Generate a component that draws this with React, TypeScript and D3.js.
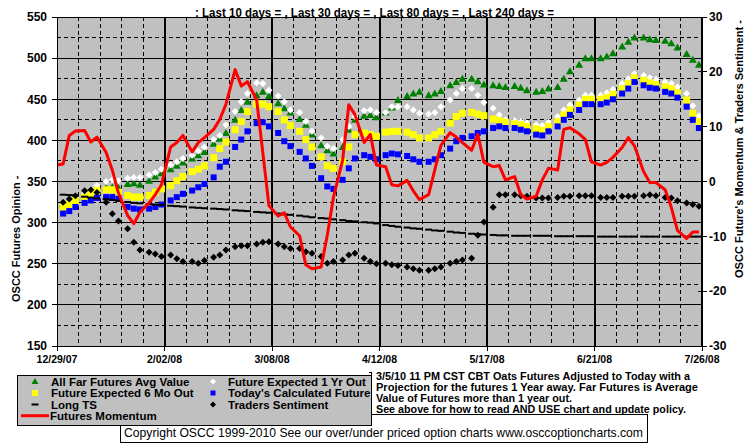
import React, { useEffect, useRef } from "react";
import * as d3 from "d3";

const titleText = ": Last 10 days = , Last 30 days = , Last 80 days = , Last 240 days =";
const leftAxisTitle = "OSCC Futures Opinion -";
const rightAxisTitle = "OSCC Future's Momentum & Traders Sentiment -";
const noteLines = [
  "3/5/10 11 PM CST CBT Oats Futures Adjusted to Today with a",
  "Projection for the futures 1 Year away. Far Futures is Average",
  "Value of Futures more than 1 year out.",
  "See above for how to read AND USE chart and update policy.",
];
const copyrightText =
  "Copyright OSCC 1999-2010 See our over/under priced option charts www.osccoptioncharts.com";

const xTickLabels = ["12/29/07", "2/02/08", "3/08/08", "4/12/08", "5/17/08", "6/21/08", "7/26/08"];
const leftTicks = [150, 200, 250, 300, 350, 400, 450, 500, 550];
const rightTicks = [-30, -20, -10, 0, 10, 20, 30];

// readings taken Mon / Wed / Fri of each week, first Monday is 12/31/07
const allFarAvg = [
  323, 326, 331, 334, 338, 342, 342, 343, 342, 347, 348, 346, 351, 356, 360,
  365, 369, 373, 378, 382, 386, 396, 402, 409, 425, 437, 447, 455, 459, 454,
  445, 439, 434, 426, 419, 407, 394, 388, 384, 392, 413, 425, 430, 431, 428,
  434, 440, 449, 454, 457, 459, 455, 457, 460, 467, 471, 475, 475, 472, 468,
  467, 466, 465, 466, 464, 461, 459, 460, 463, 465, 475, 484, 492, 500, 500,
  500, 502, 506, 514, 520, 525, 525, 523, 522, 521, 518, 513, 505, 498, 492,
];
const expected1Yr = [
  325, 328, 333, 337, 341, 345, 350, 352, 351, 354, 355, 355, 358, 361, 365,
  370, 374, 378, 382, 387, 392, 401, 406, 419, 435, 447, 457, 470, 469, 461,
  454, 447, 437, 434, 423, 411, 403, 393, 390, 401, 417, 429, 436, 437, 434,
  434, 441, 441, 441, 437, 433, 432, 434, 441, 449, 457, 463, 463, 455, 446,
  439, 431, 425, 424, 423, 421, 419, 418, 422, 429, 437, 443, 449, 455, 455,
  455, 458, 462, 469, 475, 481, 479, 476, 474, 471, 469, 465, 457, 442, 430,
];
const expected6Mo = [
  319, 322, 327, 331, 335, 339, 340, 340, 337, 333, 331, 331, 333, 337, 341,
  345, 351, 356, 362, 365, 369, 379, 390, 398, 413, 423, 435, 444, 444, 441,
  435, 425, 418, 411, 401, 392, 380, 369, 366, 374, 392, 407, 409, 407, 405,
  410, 411, 411, 410, 407, 403, 403, 407, 411, 421, 429, 433, 434, 432, 430,
  426, 424, 422, 420, 419, 417, 414, 412, 417, 423, 431, 437, 443, 450, 450,
  450, 452, 456, 463, 469, 476, 473, 470, 468, 465, 463, 458, 449, 433, 423,
];
const todaysCalc = [
  311, 314, 319, 324, 327, 330, 331, 331, 329, 319, 317, 316, 317, 319, 322,
  327, 331, 335, 339, 343, 347, 355, 368, 374, 392, 401, 411, 421, 422, 417,
  409, 399, 393, 386, 378, 369, 354, 344, 341, 352, 366, 378, 382, 380, 377,
  382, 384, 383, 381, 377, 374, 374, 377, 382, 390, 399, 403, 405, 409, 411,
  415, 417, 415, 415, 413, 411, 407, 406, 411, 417, 425, 431, 437, 444, 444,
  444, 446, 450, 457, 463, 471, 467, 464, 463, 459, 457, 452, 441, 425, 415,
];
const longTS = [
  334, 333.5, 333, 331.5, 330.5, 329.5, 328.5, 327.5, 326.5, 325, 324, 323.5, 322.5, 322, 321.5,
  320.5, 320, 319.5, 318.5, 318, 317.5, 317, 316.5, 316, 315, 314.5, 314, 313, 312.5, 312,
  311, 310, 309.5, 308.5, 307.5, 306.5, 305.5, 305, 304, 303, 302, 301.5, 300.5, 300, 299,
  297, 296, 295, 294, 293, 292.5, 291.5, 290.5, 290, 289, 288, 287.5, 286.5, 286, 285.5,
  285, 284.5, 284.5, 284, 284, 284, 284, 284, 284, 283.5, 283.5, 283.5, 283.5, 283.5, 283.5,
  283, 283, 283, 283, 283, 283, 283, 283, 283, 283, 283, 283, 283, 283, 283,
];
// right axis units
const tradersSentiment = [
  -3.8, -3.2, -2.6, -1.7, -1.5, -2.0, -3.8, -5.9, -7.2, -8.6, -11.1, -12.5, -12.9, -13.2, -13.7,
  -13.4, -14.1, -14.6, -14.6, -14.9, -14.4, -13.8, -13.4, -12.5, -11.9, -11.7, -11.7, -11.4, -11.1, -11.0,
  -11.4, -11.9, -12.2, -12.2, -12.8, -13.1, -13.7, -14.9, -14.6, -14.3, -13.4, -13.1, -14.0, -14.6, -15.0,
  -14.9, -15.2, -15.3, -15.6, -15.9, -16.2, -16.2, -15.9, -15.6, -14.9, -14.6, -14.3, -14.0, -9.8, -7.4,
  -4.7, -2.4, -2.4, -2.4, -2.6, -2.7, -3.0, -3.0, -3.0, -2.9, -2.7, -2.7, -2.6, -2.6, -2.6,
  -2.9, -2.9, -2.9, -2.7, -2.7, -2.7, -2.6, -2.4, -2.6, -2.9, -3.0, -3.5, -3.9, -4.2, -4.5,
];
const futuresMomentum = [
  3.2, 8.4, 9.2, 9.3, 7.2, 8.1, 5.3, 2.1, -2.1, -6.2, -7.7, -5.6, -3.9, -2.4, -0.6,
  6.3, 7.1, 8.4, 5.4, 7.1, 8.0, 9.5, 11.3, 14.1, 20.4, 17.4, 18.2, 14.9, 5.3, -4.4,
  -6.3, -5.7, -8.3, -9.9, -15.2, -15.9, -15.6, -9.8, -2.9, 3.9, 14.0, 12.2, 7.1, 8.6, 3.0,
  2.7, -0.6, -0.8, 0.2, -1.7, -3.3, -2.4, 2.1, 6.6, 8.9, 8.1, 7.1, 5.7, 8.6, 3.5,
  2.7, 2.9, 0.3, 0.9, -2.4, -3.2, -2.7, 0.3, 2.4, 2.1, 9.5, 9.8, 8.7, 7.7, 3.6,
  3.0, 3.5, 4.4, 6.2, 8.0, 6.5, 1.8, -0.2, -0.2, -1.5, -4.7, -8.9, -10.4, -9.2, -9.2,
];
// momentum reading on the opening date 12/29/07
const momentumOpen = [3.0];

const FONT = "'Liberation Sans', Arial, sans-serif";

const OatsChart = () => {
  const svgRef = useRef<SVGSVGElement>(null);

  useEffect(() => {
    const width = 755;
    const height = 446;
    const plot = { left: 57, right: 702, top: 17, bottom: 346 };

    const svg = d3.select(svgRef.current);
    svg.selectAll("*").remove();

    const parseDate = d3.utcParse("%m/%d/%y");
    const tickDates = xTickLabels.map((s) => parseDate(s) as Date);
    const x = d3
      .scaleUtc()
      .domain([tickDates[0], tickDates[tickDates.length - 1]])
      .range([plot.left, plot.right]);
    const yLeft = d3.scaleLinear().domain([150, 550]).range([plot.bottom, plot.top]);
    const yRight = d3.scaleLinear().domain([-30, 30]).range([plot.bottom, plot.top]);

    const firstMonday = new Date(Date.UTC(2007, 11, 31));
    const sampleDates = allFarAvg.map((_, i) =>
      d3.utcDay.offset(firstMonday, Math.floor(i / 3) * 7 + (i % 3) * 2)
    );
    const sx = (i: number) => x(sampleDates[i]);

    svg.append("rect").attr("width", width).attr("height", height).attr("fill", "#fff");
    svg
      .append("rect")
      .attr("x", plot.left)
      .attr("y", plot.top)
      .attr("width", plot.right - plot.left)
      .attr("height", plot.bottom - plot.top)
      .attr("fill", "#c0c0c0");

    // grid
    const grid = svg.append("g").attr("shape-rendering", "crispEdges").attr("stroke", "#000");
    d3.range(175, 550, 50).forEach((v) => {
      grid
        .append("line")
        .attr("x1", plot.left)
        .attr("x2", plot.right)
        .attr("y1", yLeft(v))
        .attr("y2", yLeft(v))
        .attr("stroke-dasharray", "4,3");
    });
    leftTicks.forEach((v) => {
      grid
        .append("line")
        .attr("x1", plot.left)
        .attr("x2", plot.right)
        .attr("y1", yLeft(v))
        .attr("y2", yLeft(v));
    });
    const weeks = d3.utcSaturday.range(tickDates[0], d3.utcDay.offset(tickDates[6], 1));
    weeks.forEach((d, i) => {
      const major = i % 5 === 0;
      const line = grid
        .append("line")
        .attr("x1", x(d))
        .attr("x2", x(d))
        .attr("y1", plot.top)
        .attr("y2", plot.bottom);
      if (major) line.attr("stroke-width", i === 0 ? 1 : 2);
      else line.attr("stroke-dasharray", "4,3");
    });

    // axis ticks
    leftTicks.forEach((v) => {
      grid.append("line").attr("x1", plot.left - 5).attr("x2", plot.left).attr("y1", yLeft(v)).attr("y2", yLeft(v));
    });
    rightTicks.forEach((v) => {
      grid.append("line").attr("x1", plot.right - 4).attr("x2", plot.right + 5).attr("y1", yRight(v)).attr("y2", yRight(v));
    });
    tickDates.forEach((d) => {
      grid.append("line").attr("x1", x(d)).attr("x2", x(d)).attr("y1", plot.bottom).attr("y2", plot.bottom + 5);
    });

    // series
    const marks = svg.append("g");
    marks
      .append("g")
      .selectAll("path")
      .data(allFarAvg)
      .join("path")
      .attr("d", (d, i) => {
        const cx = sx(i);
        const cy = yLeft(d);
        return `M${cx - 4},${cy + 3}L${cx + 4},${cy + 3}L${cx},${cy - 4}Z`;
      })
      .attr("fill", "#008000");
    marks
      .append("g")
      .selectAll("path")
      .data(expected1Yr)
      .join("path")
      .attr("d", (d, i) => {
        const cx = sx(i);
        const cy = yLeft(d);
        return `M${cx},${cy - 3.5}L${cx + 3.5},${cy}L${cx},${cy + 3.5}L${cx - 3.5},${cy}Z`;
      })
      .attr("fill", "#fff");
    marks
      .append("g")
      .selectAll("rect")
      .data(expected6Mo)
      .join("rect")
      .attr("x", (d, i) => sx(i) - 3.5)
      .attr("y", (d) => yLeft(d) - 3.5)
      .attr("width", 7)
      .attr("height", 7)
      .attr("fill", "#ffff00");
    marks
      .append("g")
      .selectAll("rect")
      .data(todaysCalc)
      .join("rect")
      .attr("x", (d, i) => sx(i) - 3)
      .attr("y", (d) => yLeft(d) - 3)
      .attr("width", 6)
      .attr("height", 6)
      .attr("fill", "#0000ff");
    marks
      .append("g")
      .selectAll("rect")
      .data(longTS)
      .join("rect")
      .attr("x", (d, i) => sx(i) - 3.5)
      .attr("y", (d) => yLeft(d) - 1)
      .attr("width", 7)
      .attr("height", 2)
      .attr("fill", "#000");
    marks
      .append("g")
      .selectAll("path")
      .data(tradersSentiment)
      .join("path")
      .attr("d", (d, i) => {
        const cx = sx(i);
        const cy = yRight(d);
        return `M${cx},${cy - 3.5}L${cx + 3.5},${cy}L${cx},${cy + 3.5}L${cx - 3.5},${cy}Z`;
      })
      .attr("fill", "#000");
    const momentumPoints: [Date, number][] = [
      [tickDates[0], momentumOpen[0]],
      ...futuresMomentum.map((v, i) => [sampleDates[i], v] as [Date, number]),
    ];
    const momentumLine = d3
      .line<[Date, number]>()
      .x((d) => x(d[0]))
      .y((d) => yRight(d[1]));
    marks
      .append("path")
      .attr("d", momentumLine(momentumPoints))
      .attr("fill", "none")
      .attr("stroke", "#ff0000")
      .attr("stroke-width", 3)
      .attr("stroke-linejoin", "round");

    // frame
    const frame = svg.append("g").attr("shape-rendering", "crispEdges").attr("stroke", "#000");
    frame.append("line").attr("x1", plot.left).attr("x2", plot.left).attr("y1", plot.top).attr("y2", plot.bottom);
    frame
      .append("line")
      .attr("x1", plot.right)
      .attr("x2", plot.right)
      .attr("y1", plot.top)
      .attr("y2", plot.bottom)
      .attr("stroke-width", 2);
    frame.append("line").attr("x1", plot.left).attr("x2", plot.right).attr("y1", plot.bottom).attr("y2", plot.bottom);

    // labels
    const text = svg.append("g").attr("font-family", FONT).attr("font-weight", "bold").attr("fill", "#000");
    leftTicks.forEach((v) => {
      text.append("text").attr("x", 47).attr("y", yLeft(v) + 4.3).attr("text-anchor", "end").attr("font-size", 12).text(v);
    });
    rightTicks.forEach((v) => {
      text.append("text").attr("x", 709).attr("y", yRight(v) + 4.3).attr("font-size", 12).text(v);
    });
    tickDates.forEach((d, i) => {
      text
        .append("text")
        .attr("x", x(d))
        .attr("y", 363)
        .attr("text-anchor", "middle")
        .attr("font-size", 10.5)
        .text(xTickLabels[i]);
    });
    text
      .append("text")
      .attr("x", 195)
      .attr("y", 16.5)
      .attr("font-size", 12)
      .attr("textLength", 359)
      .attr("lengthAdjust", "spacingAndGlyphs")
      .text(titleText);
    text
      .append("text")
      .attr("transform", "translate(19.5,302) rotate(-90)")
      .attr("font-size", 11)
      .text(leftAxisTitle);
    text
      .append("text")
      .attr("transform", "translate(742.5,278) rotate(-90)")
      .attr("font-size", 11)
      .attr("textLength", 258)
      .attr("lengthAdjust", "spacingAndGlyphs")
      .text(rightAxisTitle);

    // copyright box (legend box sits over its top left corner)
    svg
      .append("rect")
      .attr("x", 120.5)
      .attr("y", 414.5)
      .attr("width", 527)
      .attr("height", 28)
      .attr("fill", "#fff")
      .attr("stroke", "#000")
      .attr("shape-rendering", "crispEdges");
    svg
      .append("text")
      .attr("x", 124)
      .attr("y", 436.5)
      .attr("font-family", FONT)
      .attr("font-size", 13)
      .attr("textLength", 519)
      .attr("lengthAdjust", "spacingAndGlyphs")
      .text(copyrightText);

    // legend
    const legend = svg.append("g");
    legend
      .append("rect")
      .attr("x", 17.5)
      .attr("y", 375.5)
      .attr("width", 354)
      .attr("height", 50)
      .attr("fill", "#c0c0c0")
      .attr("stroke", "#000")
      .attr("shape-rendering", "crispEdges");
    const rows = [381.5, 393, 404.5, 415.7];
    legend.append("path").attr("d", `M31.5,${rows[0] + 2.5}L38.5,${rows[0] + 2.5}L35,${rows[0] - 3.5}Z`).attr("fill", "#008000");
    legend.append("path").attr("d", `M213,${rows[0] - 3}L216,${rows[0]}L213,${rows[0] + 3}L210,${rows[0]}Z`).attr("fill", "#fff");
    legend.append("rect").attr("x", 32).attr("y", rows[1] - 3).attr("width", 6).attr("height", 6).attr("fill", "#ffff00");
    legend.append("rect").attr("x", 210.5).attr("y", rows[1] - 2.5).attr("width", 5).attr("height", 5).attr("fill", "#0000ff");
    legend.append("rect").attr("x", 31.5).attr("y", rows[2] - 1).attr("width", 7).attr("height", 2).attr("fill", "#000");
    legend.append("path").attr("d", `M213,${rows[2] - 3}L216,${rows[2]}L213,${rows[2] + 3}L210,${rows[2]}Z`).attr("fill", "#000");
    legend
      .append("line")
      .attr("x1", 21)
      .attr("x2", 49)
      .attr("y1", rows[3])
      .attr("y2", rows[3])
      .attr("stroke", "#ff0000")
      .attr("stroke-width", 3);
    const legendItems: [string, number, number][] = [
      ["All Far Futures Avg Value", 51, rows[0]],
      ["Future Expected 6 Mo Out", 51, rows[1]],
      ["Long TS", 51, rows[2]],
      ["Futures Momentum", 50, rows[3]],
      ["Future Expected 1 Yr Out", 228, rows[0]],
      ["Today's Calculated Future", 228, rows[1]],
      ["Traders Sentiment", 228, rows[2]],
    ];
    legendItems.forEach(([label, lx, ly]) => {
      legend
        .append("text")
        .attr("x", lx)
        .attr("y", ly + 4.2)
        .attr("font-family", FONT)
        .attr("font-weight", "bold")
        .attr("font-size", 11.5)
        .text(label);
    });

    // notes beside the legend
    svg
      .append("path")
      .attr("d", "M369,372.5H371.5V414")
      .attr("fill", "none")
      .attr("stroke", "#000")
      .attr("shape-rendering", "crispEdges");
    const noteLengths = [314, 322, 196, 310];
    noteLines.forEach((line, i) => {
      svg
        .append("text")
        .attr("x", 376)
        .attr("y", 379.5 + i * 11.1)
        .attr("font-family", FONT)
        .attr("font-weight", "bold")
        .attr("font-size", 10.5)
        .attr("textLength", noteLengths[i])
        .attr("lengthAdjust", "spacingAndGlyphs")
        .text(line);
    });
  }, []);

  return (
    <svg
      ref={svgRef}
      width={755}
      height={446}
      style={{ position: "absolute", left: 0, top: 0 }}
    ></svg>
  );
};

export default function App() {
  return <OatsChart />;
}
